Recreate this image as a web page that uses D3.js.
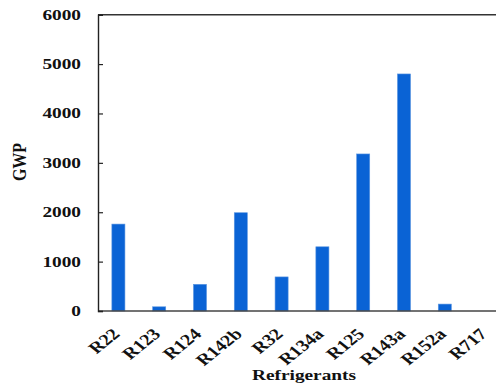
<!DOCTYPE html>
<html><head><meta charset="utf-8">
<script src="https://cdn.jsdelivr.net/npm/d3@7"></script>
<style>body{margin:0;background:#fff}svg{display:block}</style>
</head><body>
<script>
const categories = ["R22","R123","R124","R142b","R32","R134a","R125","R143a","R152a","R717"];
const gwp = [1760, 85, 540, 1990, 690, 1300, 3180, 4800, 140, 0];
const yTicks = [0,1000,2000,3000,4000,5000,6000];
const xTitle = "Refrigerants";
const yTitle = "GWP";

(function(){
const W = 496, H = 387, SX = 1.38;
const svg = d3.select("body").append("svg").attr("width", W).attr("height", H);
const mLeft = 98, mTop = 14.7, mBottom = 311, mRight = 506;
const font = "'Liberation Serif','Times New Roman',serif";

const x = d3.scaleBand().domain(categories).range([mLeft, mRight]).paddingInner(0.68).paddingOuter(0.34);
const y = d3.scaleLinear().domain([0, 6000]).range([mBottom, mTop]);

// bars
svg.append("g").selectAll("rect").data(categories).join("rect")
  .attr("x", d => x(d)).attr("width", x.bandwidth())
  .attr("y", (d,i) => y(gwp[i])).attr("height", (d,i) => mBottom - y(gwp[i]))
  .attr("fill", "#0a63d5").attr("stroke", "#5a95e0").attr("stroke-width", 0.6);

// frame lines
const axisColor = "#222";
svg.append("line").attr("x1", mLeft).attr("x2", W).attr("y1", mTop).attr("y2", mTop).attr("stroke", "#333").attr("stroke-width", 1.4);
svg.append("line").attr("x1", mLeft).attr("x2", W).attr("y1", mBottom).attr("y2", mBottom).attr("stroke", "#444").attr("stroke-width", 1.4);

// y axis
const ya = svg.append("g").attr("transform", `translate(${mLeft},0)`)
  .call(d3.axisRight(y).tickValues(yTicks).tickSize(5).tickFormat(""));
ya.select(".domain").attr("stroke", axisColor).attr("stroke-width", 1.4);
ya.selectAll(".tick line").attr("stroke", axisColor).attr("stroke-width", 1.2);

svg.append("g").selectAll("text").data(yTicks).join("text")
  .attr("transform", d => `translate(81,${y(d)}) scale(${SX},1)`)
  .attr("text-anchor", "end").attr("dy", "0.35em")
  .attr("font-family", font).attr("font-weight", "bold").attr("font-size", 14)
  .attr("fill", "#111").text(d => d);

// x labels
svg.append("g").selectAll("text").data(categories).join("text")
  .attr("transform", d => `translate(${x(d) + x.bandwidth()/2 + 2.5},335) scale(1.25,1) rotate(-45)`)
  .attr("text-anchor", "end")
  .attr("font-family", font).attr("font-weight", "bold").attr("font-size", 16)
  .attr("fill", "#111").text(d => d);

// titles
svg.append("text").attr("transform", `translate(304,380) scale(${SX},1)`)
  .attr("text-anchor", "middle").attr("font-family", font).attr("font-weight", "bold").attr("font-size", 14)
  .attr("fill", "#111").text(xTitle);
svg.append("text").attr("transform", `translate(26,162) scale(1.15,1) rotate(-90)`)
  .attr("text-anchor", "middle").attr("font-family", font).attr("font-weight", "bold").attr("font-size", 16)
  .attr("fill", "#111").text(yTitle);
})();
</script>
</body></html>
